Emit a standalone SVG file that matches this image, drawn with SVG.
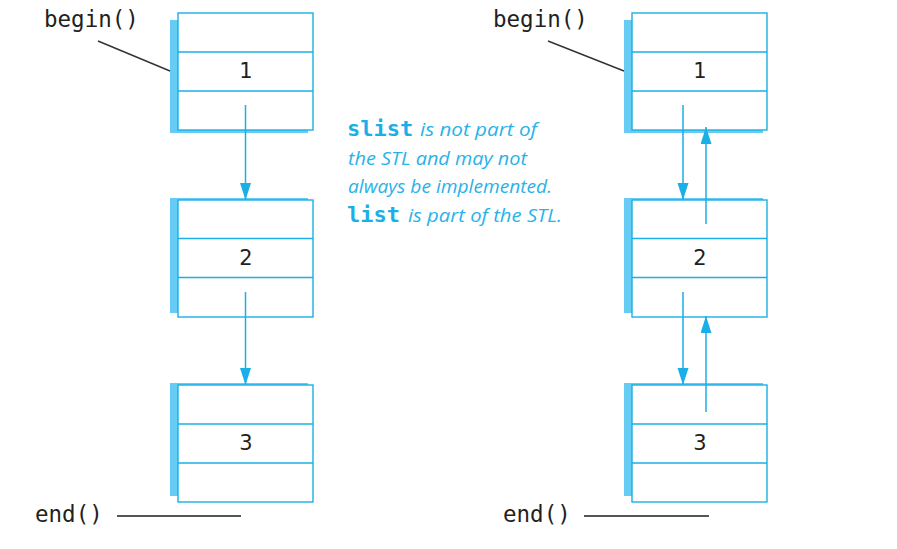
<svg xmlns="http://www.w3.org/2000/svg" width="897" height="549" viewBox="0 0 897 549">
<style>
.shadow{fill:#66CCF4;stroke:none}
.box{fill:#fff;stroke:#1AAFE6;stroke-width:1.4}
.div{stroke:#1AAFE6;stroke-width:1.4}
.num{font-family:"DejaVu Sans","Liberation Sans",sans-serif;font-size:21px;fill:#231F20;text-anchor:middle}
.code{font-family:"DejaVu Sans Mono","Liberation Mono",monospace;font-size:22.5px;fill:#231F20}
.ptr{stroke:#333;stroke-width:1.4;fill:none}
.endl{stroke:#555;stroke-width:2;fill:none}
.arr{stroke:#1AAFE6;stroke-width:1.5;fill:none;marker-end:url(#ah)}
.note{font-family:"Open Sans","Liberation Sans",sans-serif;font-style:italic;font-size:18px;fill:#29B2E8}
.notec{font-family:"DejaVu Sans Mono","Liberation Mono",monospace;font-weight:bold;font-size:22px;fill:#1AAFE6}
</style>
<defs>
<marker id="ah" markerUnits="userSpaceOnUse" markerWidth="18" markerHeight="12" refX="17" refY="5.5" orient="auto">
<path d="M0,0 L17,5.5 L0,11 z" fill="#1AAFE6"/>
</marker>
</defs>

<g id="left-node-1">
<rect class="shadow" x="170" y="20" width="138" height="113"/>
<rect class="box" x="178" y="13" width="135" height="117"/>
<line class="div" x1="178" y1="52" x2="313" y2="52"/>
<line class="div" x1="178" y1="91" x2="313" y2="91"/>
<text class="num" x="246" y="78">1</text>
</g>
<g id="left-node-2">
<rect class="shadow" x="170" y="198" width="138" height="115"/>
<rect class="box" x="178" y="200" width="135" height="117"/>
<line class="div" x1="178" y1="238.5" x2="313" y2="238.5"/>
<line class="div" x1="178" y1="277.5" x2="313" y2="277.5"/>
<text class="num" x="246" y="265">2</text>
</g>
<g id="left-node-3">
<rect class="shadow" x="170" y="383" width="138" height="113"/>
<rect class="box" x="178" y="385" width="135" height="117"/>
<line class="div" x1="178" y1="424" x2="313" y2="424"/>
<line class="div" x1="178" y1="463" x2="313" y2="463"/>
<text class="num" x="246" y="450">3</text>
</g>

<g id="right-node-1">
<rect class="shadow" x="624" y="20" width="139" height="113"/>
<rect class="box" x="632" y="13" width="135" height="117"/>
<line class="div" x1="632" y1="52" x2="767" y2="52"/>
<line class="div" x1="632" y1="91" x2="767" y2="91"/>
<text class="num" x="700" y="78">1</text>
</g>
<g id="right-node-2">
<rect class="shadow" x="624" y="198" width="139" height="115"/>
<rect class="box" x="632" y="200" width="135" height="117"/>
<line class="div" x1="632" y1="238.5" x2="767" y2="238.5"/>
<line class="div" x1="632" y1="277.5" x2="767" y2="277.5"/>
<text class="num" x="700" y="265">2</text>
</g>
<g id="right-node-3">
<rect class="shadow" x="624" y="383" width="139" height="113"/>
<rect class="box" x="632" y="385" width="135" height="117"/>
<line class="div" x1="632" y1="424" x2="767" y2="424"/>
<line class="div" x1="632" y1="463" x2="767" y2="463"/>
<text class="num" x="700" y="450">3</text>
</g>

<g id="labels">
<text class="code" x="44" y="27">begin()</text>
<text class="code" x="493" y="27">begin()</text>
<text class="code" x="35" y="522">end()</text>
<text class="code" x="503" y="522">end()</text>
</g>

<g id="connectors">
<line class="ptr" x1="98" y1="41" x2="170" y2="71"/>
<line class="ptr" x1="548" y1="41" x2="624" y2="71"/>
<line class="endl" x1="117" y1="516" x2="241" y2="516"/>
<line class="endl" x1="584" y1="516" x2="709" y2="516"/>
<line class="arr" x1="245.5" y1="105" x2="245.5" y2="200"/>
<line class="arr" x1="245.5" y1="292" x2="245.5" y2="385"/>
<line class="arr" x1="683" y1="105" x2="683" y2="200"/>
<line class="arr" x1="683" y1="292" x2="683" y2="385"/>
<line class="arr" x1="706" y1="224" x2="706" y2="127"/>
<line class="arr" x1="706" y1="412" x2="706" y2="316"/>
</g>

<g id="note">
<text class="notec" x="347" y="136">slist</text>
<text class="note" x="420" y="136" textLength="117" lengthAdjust="spacingAndGlyphs">is not part of</text>
<text class="note" x="348" y="165" textLength="179" lengthAdjust="spacingAndGlyphs">the STL and may not</text>
<text class="note" x="348" y="193" textLength="204" lengthAdjust="spacingAndGlyphs">always be implemented.</text>
<text class="notec" x="347" y="222">list</text>
<text class="note" x="408" y="222" textLength="154" lengthAdjust="spacingAndGlyphs">is part of the STL.</text>
</g>
</svg>
